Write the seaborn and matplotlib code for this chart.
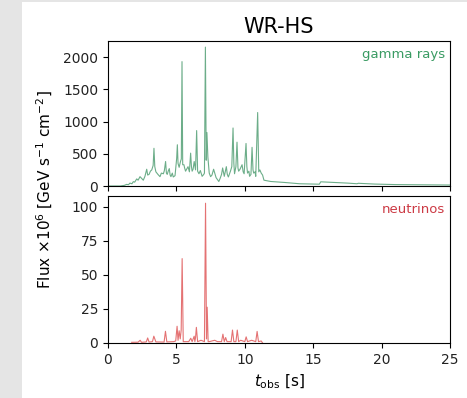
import matplotlib
matplotlib.use("Agg")
import matplotlib.pyplot as plt
import seaborn as sns
import pandas as pd
from matplotlib.patches import Rectangle

# gamma-ray light curve (time [s], flux x1e6)
gamma_t = [0.0, 0.9, 1.2, 1.36, 1.5, 1.6, 1.75, 1.85, 1.95, 2.1, 2.2, 2.34, 2.45, 2.58, 2.7,
           2.83, 2.9, 3.0, 3.1, 3.2, 3.3, 3.36, 3.42, 3.5, 3.65, 3.8, 3.9, 4.05, 4.12, 4.21,
           4.27, 4.33, 4.4, 4.48, 4.54, 4.6, 4.7, 4.77, 4.9, 5.02, 5.07, 5.12, 5.2, 5.3, 5.36,
           5.41, 5.46, 5.55, 5.6, 5.67, 5.75, 5.85, 5.95, 6.04, 6.1, 6.15, 6.22, 6.3, 6.4,
           6.48, 6.55, 6.65, 6.75, 6.88, 7.0, 7.05, 7.12, 7.18, 7.23, 7.3, 7.4, 7.5, 7.6,
           7.72, 7.8, 7.9, 8.0, 8.1, 8.2, 8.3, 8.38, 8.45, 8.5, 8.65, 8.72, 8.8, 8.9, 8.95,
           9.05, 9.14, 9.2, 9.25, 9.35, 9.43, 9.5, 9.55, 9.65, 9.8, 9.88, 9.95, 10.09, 10.15,
           10.2, 10.3, 10.35, 10.45, 10.53, 10.6, 10.65, 10.75, 10.8, 10.94, 11.02, 11.1,
           11.2, 11.3, 11.4, 11.9, 12.9, 14.0, 15.0, 15.45, 15.55, 16.5, 17.5, 18.2, 18.3,
           19.5, 21.0, 23.0, 25.0]
gamma_f = [0, 0, 10, 25, 20, 45, 35, 67, 60, 110, 90, 145, 120, 90, 150,
           260, 170, 180, 230, 250, 320, 585, 300, 220, 180, 145, 200, 190, 240, 380,
           200, 180, 230, 270, 170, 145, 200, 140, 160, 430, 640, 350, 290, 380, 420,
           1930, 330, 330, 280, 230, 260, 300, 220, 510, 300, 230, 260, 380, 250,
           860, 230, 190, 240, 150, 180, 200, 2155, 400, 830, 450, 200, 145, 170,
           260, 200, 130, 100, 70, 120, 180, 280, 200, 150, 300, 180, 140, 200, 230,
           300, 900, 350, 190, 300, 680, 280, 230, 260, 330, 220, 190, 660, 300,
           200, 230, 150, 180, 600, 250, 200, 220, 150, 1140, 220, 250,
           200, 170, 90, 70, 55, 35, 30, 28, 65, 55, 45, 35, 42,
           30, 22, 18, 15]

# neutrino light curve (time [s], flux x1e6)
nu_t = [1.73, 2.2, 2.35, 2.45, 2.8, 2.9, 3.0, 3.25, 3.35, 3.5, 4.1, 4.2, 4.3, 4.8, 4.95, 5.05,
        5.12, 5.2, 5.28, 5.35, 5.42, 5.5, 5.9, 6.05, 6.15, 6.3, 6.35, 6.4, 6.46, 6.55, 6.8,
        7.05, 7.13, 7.2, 7.25, 7.32, 7.4, 7.8, 8.0, 8.3, 8.4, 8.5, 8.6, 8.7, 9.0, 9.1,
        9.2, 9.35, 9.45, 9.55, 9.7, 10.0, 10.1, 10.2, 10.5, 10.8, 10.9, 11.0, 11.2, 11.3]
nu_f = [0.5, 0.6, 2.0, 0.5, 0.8, 3.7, 0.7, 1.0, 5.0, 0.8, 0.7, 8.6, 0.8, 1.0, 1.5, 12.3,
        2.0, 9.0, 3.0, 9.5, 62.0, 1.0, 1.0, 3.5, 1.0, 5.0, 1.0, 4.0, 11.5, 1.0, 2.0,
        1.0, 102.7, 3.0, 26.3, 1.0, 1.0, 2.0, 1.0, 1.0, 6.5, 1.0, 4.0, 1.0, 1.0, 9.5,
        1.0, 1.0, 9.5, 1.0, 2.0, 1.0, 4.5, 1.0, 2.0, 1.0, 8.5, 1.0, 1.5, 0.0]

gamma_color = "#2e8b57"
nu_color = "#d62728"

df_g = pd.DataFrame({"t": gamma_t, "flux": gamma_f})
df_n = pd.DataFrame({"t": nu_t, "flux": nu_f})

fig = plt.figure(figsize=(4.67, 3.98), dpi=100)
fig.patches.append(Rectangle((0, 0), 22 / 467, 1, transform=fig.transFigure,
                             facecolor="#e5e5e5", edgecolor="none", zorder=0))
fig.patches.append(Rectangle((0, 1 - 1.5 / 398), 1, 1.5 / 398, transform=fig.transFigure,
                             facecolor="#e5e5e5", edgecolor="none", zorder=0))

ax1 = fig.add_axes([108 / 467, 1 - 186 / 398, 342 / 467, 145 / 398])
ax2 = fig.add_axes([108 / 467, 1 - 343 / 398, 342 / 467, 147 / 398])

sns.lineplot(data=df_g, x="t", y="flux", ax=ax1, color=gamma_color, lw=0.8, alpha=0.7)
sns.lineplot(data=df_n, x="t", y="flux", ax=ax2, color=nu_color, lw=0.8, alpha=0.65)

ax1.set_xlim(0, 25)
ax1.set_ylim(0, 2250)
ax1.set_yticks([0, 500, 1000, 1500, 2000])
ax1.set_xticks([0, 5, 10, 15, 20, 25])
ax1.set_xticklabels([])
ax1.set_xlabel("")
ax1.set_ylabel("")
ax1.set_title("WR-HS", fontsize=15)

ax2.set_xlim(0, 25)
ax2.set_ylim(0, 108)
ax2.set_yticks([0, 25, 50, 75, 100])
ax2.set_xticks([0, 5, 10, 15, 20, 25])
ax2.set_xlabel(r"$t_{\rm obs}$ [s]", fontsize=11)
ax2.set_ylabel("")

for ax in (ax1, ax2):
    ax.tick_params(labelsize=10, labelcolor="#222222")

ax1.text(0.985, 0.95, "gamma rays", transform=ax1.transAxes, ha="right", va="top",
         color="#3a9b63", fontsize=9.5)
ax2.text(0.985, 0.95, "neutrinos", transform=ax2.transAxes, ha="right", va="top",
         color="#cc3a44", fontsize=9.5)

fig.text(45 / 467, 1 - 190 / 398, r"Flux $\times 10^6$ [GeV s$^{-1}$ cm$^{-2}$]",
         rotation=90, ha="center", va="center", fontsize=11)

fig.savefig("out.png", dpi=100)
